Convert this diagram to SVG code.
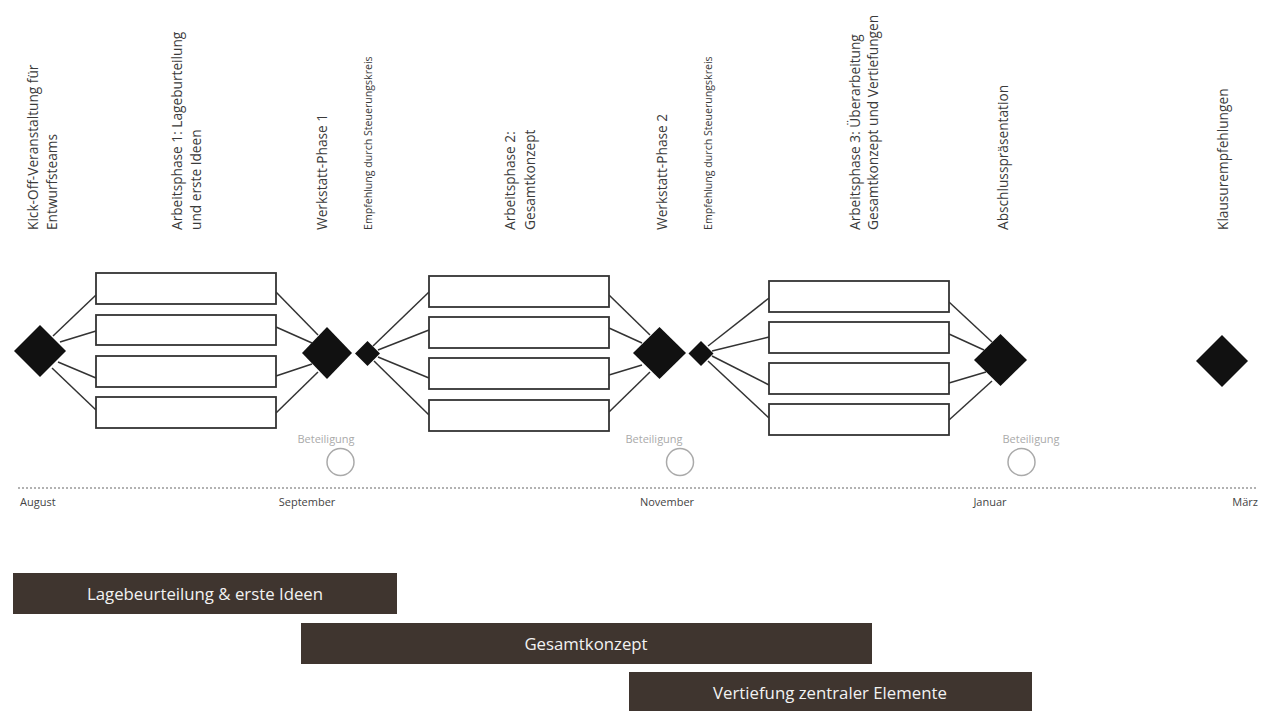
<svg xmlns="http://www.w3.org/2000/svg" width="1268" height="711" viewBox="0 0 1268 711">
<style>
.lbl{font-family:"Open Sans","Liberation Sans",sans-serif;font-size:13.7px;fill:#3a3a3a}
.sm{font-family:"Open Sans","Liberation Sans",sans-serif;font-size:10.6px;fill:#3a3a3a}
.bet{font-family:"Open Sans","Liberation Sans",sans-serif;font-size:11px;fill:#aaaaaa;text-anchor:middle}
.mon{font-family:"Open Sans","Liberation Sans",sans-serif;font-size:11px;fill:#444}
.box{fill:#fff;stroke:#333;stroke-width:1.8}
.dia{fill:#111}
.con{stroke:#333;stroke-width:1.5;fill:none}
.bar{fill:#3f352f}
.bt{font-family:"Open Sans","Liberation Sans",sans-serif;font-size:16.8px;fill:#f2f2f2;text-anchor:middle}
.circ{fill:none;stroke:#aaa;stroke-width:1.5}
</style>
<rect width="1268" height="711" fill="#fff"/>
<g id="labels">
<text class="lbl" transform="translate(38,230) rotate(-90)">Kick-Off-Veranstaltung für</text>
<text class="lbl" transform="translate(57,230) rotate(-90)">Entwurfsteams</text>
<text class="lbl" transform="translate(182,230) rotate(-90)">Arbeitsphase 1: Lageburteilung</text>
<text class="lbl" transform="translate(201,230) rotate(-90)">und erste Ideen</text>
<text class="lbl" transform="translate(327,230) rotate(-90)">Werkstatt-Phase 1</text>
<text class="sm" transform="translate(372,230) rotate(-90)">Empfehlung durch Steuerungskreis</text>
<text class="lbl" transform="translate(515,230) rotate(-90)">Arbeitsphase 2:</text>
<text class="lbl" transform="translate(535,230) rotate(-90)">Gesamtkonzept</text>
<text class="lbl" transform="translate(667,230) rotate(-90)">Werkstatt-Phase 2</text>
<text class="sm" transform="translate(712,230) rotate(-90)">Empfehlung durch Steuerungskreis</text>
<text class="lbl" transform="translate(860,230) rotate(-90)">Arbeitsphase 3: Überarbeitung</text>
<text class="lbl" transform="translate(878,230) rotate(-90)">Gesamtkonzept und Vertiefungen</text>
<text class="lbl" transform="translate(1008,230) rotate(-90)">Abschlusspräsentation</text>
<text class="lbl" transform="translate(1228,230) rotate(-90)">Klausurempfehlungen</text>
</g>
<g id="connectors">
<line class="con" x1="53" y1="336" x2="96" y2="295"/>
<line class="con" x1="60" y1="342" x2="96" y2="331"/>
<line class="con" x1="58" y1="362" x2="96" y2="378"/>
<line class="con" x1="52" y1="368" x2="96" y2="410"/>
<line class="con" x1="276" y1="292" x2="318" y2="335"/>
<line class="con" x1="276" y1="327" x2="312" y2="343"/>
<line class="con" x1="276" y1="376" x2="312" y2="364"/>
<line class="con" x1="276" y1="413" x2="318" y2="372"/>
<line class="con" x1="373" y1="346" x2="429" y2="292"/>
<line class="con" x1="378" y1="350" x2="429" y2="330"/>
<line class="con" x1="378" y1="357" x2="429" y2="378"/>
<line class="con" x1="374" y1="361" x2="429" y2="415"/>
<line class="con" x1="609" y1="295" x2="650" y2="335"/>
<line class="con" x1="609" y1="328" x2="642" y2="343"/>
<line class="con" x1="609" y1="375" x2="642" y2="365"/>
<line class="con" x1="609" y1="412" x2="650" y2="372"/>
<line class="con" x1="708" y1="346" x2="769" y2="298"/>
<line class="con" x1="712" y1="351" x2="769" y2="337"/>
<line class="con" x1="712" y1="356" x2="769" y2="385"/>
<line class="con" x1="708" y1="361" x2="769" y2="418"/>
<line class="con" x1="949" y1="302" x2="992" y2="342"/>
<line class="con" x1="949" y1="334" x2="984" y2="350"/>
<line class="con" x1="949" y1="383" x2="986" y2="372"/>
<line class="con" x1="949" y1="420" x2="992" y2="381"/>
</g>
<g id="group1">
<rect class="box" x="96" y="273" width="180" height="31"/>
<rect class="box" x="96" y="315" width="180" height="30"/>
<rect class="box" x="96" y="356" width="180" height="31"/>
<rect class="box" x="96" y="397" width="180" height="31"/>
</g>
<g id="group2">
<rect class="box" x="429" y="276" width="180" height="31"/>
<rect class="box" x="429" y="317" width="180" height="31"/>
<rect class="box" x="429" y="358" width="180" height="31"/>
<rect class="box" x="429" y="400" width="180" height="31"/>
</g>
<g id="group3">
<rect class="box" x="769" y="281" width="180" height="31"/>
<rect class="box" x="769" y="322" width="180" height="31"/>
<rect class="box" x="769" y="363" width="180" height="31"/>
<rect class="box" x="769" y="404" width="180" height="31"/>
</g>
<g id="d1"><polygon class="dia" points="40,325 66,351 40,377 14,351"/></g>
<g id="d2"><polygon class="dia" points="327,327 352,353 327,379 302,353"/></g>
<g id="s1"><polygon class="dia" points="367.5,341 380,353.5 367.5,366 355,353.5"/></g>
<g id="d3"><polygon class="dia" points="659.5,327 686,353 659.5,379 633,353"/></g>
<g id="s2"><polygon class="dia" points="701,341 713.5,353.5 701,366 688.5,353.5"/></g>
<g id="d4"><polygon class="dia" points="1000.5,334 1027,360 1000.5,386 974,360"/></g>
<g id="d5"><polygon class="dia" points="1222,335 1248,361 1222,387 1196,361"/></g>
<g id="beteiligung">
<text class="bet" x="326" y="443">Beteiligung</text>
<circle class="circ" cx="340.5" cy="462" r="13.5"/>
<text class="bet" x="654" y="443">Beteiligung</text>
<circle class="circ" cx="680" cy="462" r="13.5"/>
<text class="bet" x="1031" y="443">Beteiligung</text>
<circle class="circ" cx="1021.5" cy="462" r="13.5"/>
</g>
<g id="timeline">
<line x1="18" y1="488" x2="1258" y2="488" stroke="#999" stroke-width="1.5" stroke-dasharray="2,2"/>
<text class="mon" x="20" y="506">August</text>
<text class="mon" x="307" y="506" text-anchor="middle">September</text>
<text class="mon" x="667" y="506" text-anchor="middle">November</text>
<text class="mon" x="990" y="506" text-anchor="middle">Januar</text>
<text class="mon" x="1258" y="506" text-anchor="end">März</text>
</g>
<g id="bar1"><rect class="bar" x="13" y="573" width="384" height="41"/><text class="bt" x="205" y="600">Lagebeurteilung &amp; erste Ideen</text></g>
<g id="bar2"><rect class="bar" x="301" y="623" width="571" height="41"/><text class="bt" x="586" y="650">Gesamtkonzept</text></g>
<g id="bar3"><rect class="bar" x="629" y="672" width="403" height="41"/><text class="bt" x="830" y="699">Vertiefung zentraler Elemente</text></g>
</svg>
